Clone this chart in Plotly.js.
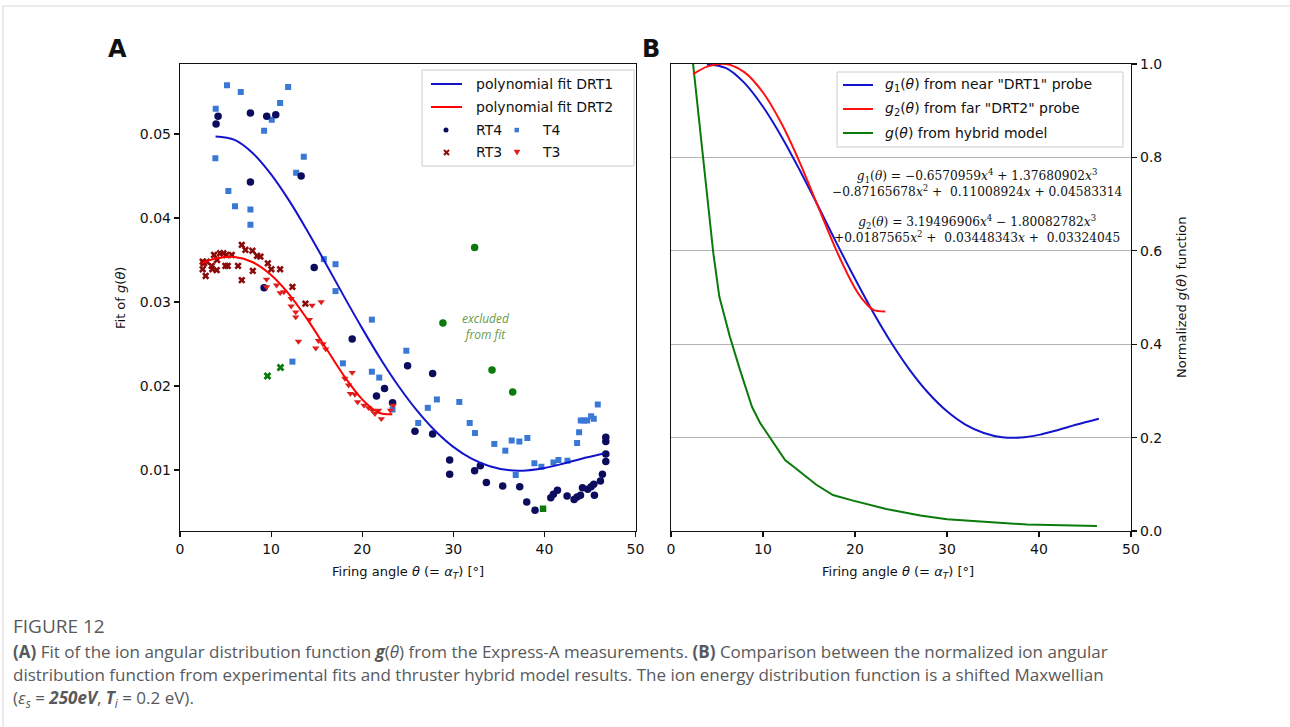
<!DOCTYPE html>
<html>
<head>
<meta charset="utf-8">
<script src="https://cdn.plot.ly/plotly-3.0.1.min.js"></script>
<style>html,body{margin:0;padding:0;background:#fff;}#chart{width:1290px;height:727px;}</style>
</head>
<body>
<div id="chart"></div>
<script>
// ---------- Panel A data ----------
const T4_x = [3.92,5.16,6.67,11.87,10.99,10.07,9.23,3.88,13.59,12.75,5.31,6.04,7.73,7.73,15.79,17.07,17.07,21.06,24.84,17.88,21.06,21.87,23.33,26.15,12.34,28.2,27.2,30.66,31.8,32.38,34.5,35.71,36.41,37.25,38.13,36.85,38.9,39.67,40.99,41.54,42.53,43.59,43.81,43.99,44.36,44.69,45.13,45.42,45.86];
const T4_y = [0.0530,0.0558,0.0550,0.0556,0.0537,0.0517,0.0504,0.0471,0.0473,0.0454,0.0432,0.0414,0.0410,0.0392,0.0351,0.0345,0.0313,0.0279,0.0242,0.0227,0.0217,0.0210,0.0172,0.0156,0.0229,0.0184,0.0174,0.0181,0.0156,0.0144,0.0131,0.0123,0.0135,0.0134,0.0138,0.0094,0.0108,0.0104,0.0109,0.0112,0.0111,0.0132,0.0145,0.0159,0.0159,0.0159,0.0164,0.0161,0.0178];
const RT4_x = [3.96,4.18,7.73,9.52,10.51,13.3,7.73,14.73,9.23,18.9,24.98,22.45,21.57,23.33,25.79,27.73,27.73,29.6,29.6,32.34,32.97,33.63,35.42,37.29,38.06,38.97,40.7,40.99,41.43,42.49,43.26,43.59,43.96,44.18,44.76,45.13,45.49,45.42,46.15,46.37,46.74,46.74,46.74,46.74];
const RT4_y = [0.0512,0.0521,0.0525,0.0521,0.0523,0.0450,0.0443,0.0341,0.0317,0.0256,0.0224,0.0197,0.0188,0.0180,0.0146,0.0215,0.0143,0.0112,0.0095,0.0099,0.0105,0.0085,0.0081,0.0080,0.0062,0.0052,0.0067,0.0071,0.0076,0.0069,0.0065,0.0068,0.0070,0.0079,0.0077,0.0080,0.0070,0.0083,0.0087,0.0095,0.0110,0.0119,0.0134,0.0139];
const RT3_x = [2.49,2.64,2.93,2.49,2.82,3.48,3.55,3.74,4.07,4.03,4.4,4.76,5.09,4.98,5.24,5.68,6.37,6.78,6.78,7.18,7.95,7.99,8.46,8.83,9.64,10.03,10.99,12.34,13.77];
const RT3_y = [0.0348,0.0346,0.0348,0.0339,0.0331,0.0343,0.0339,0.0356,0.0350,0.0338,0.0358,0.0358,0.0356,0.0343,0.0343,0.0356,0.0343,0.0368,0.0326,0.0362,0.0361,0.0337,0.0355,0.0354,0.0346,0.0339,0.0339,0.0318,0.0298];
const T3_x = [9.5,9.5,10.6,11.0,11.4,12.2,12.2,12.7,12.7,14.2,14.5,15.5,13.0,14.9,15.2,15.7,16.0,18.9,18.1,18.5,18.7,19.2,19.5,20.2,20.7,21.1,21.4,21.8,22.1,23.1,23.4];
const T3_y = [0.0327,0.0318,0.0320,0.0311,0.0312,0.0304,0.0295,0.0288,0.0282,0.0279,0.0296,0.0300,0.0253,0.0245,0.0254,0.0250,0.0244,0.0216,0.0209,0.0201,0.0191,0.0190,0.0181,0.0177,0.0174,0.0171,0.0167,0.0171,0.0161,0.0171,0.0177];
const excl_circle_x = [32.34,28.86,34.25,36.52];
const excl_circle_y = [0.0365,0.0275,0.0219,0.0193];
const excl_cross_x = [9.6,11.03];
const excl_cross_y = [0.0212,0.0222];
const excl_square_x = [39.85];
const excl_square_y = [0.0054];
const fit1_x = [3.9,6,8,10,12,14,16,18,20,22,24,26,28,30,32,34,36,38,40,42,44,46.5];
const fit1_y = [0.04971,0.04930,0.04771,0.04520,0.04204,0.03843,0.03459,0.03067,0.02686,0.02325,0.01997,0.01709,0.01467,0.01275,0.01134,0.01044,0.00999,0.00995,0.01024,0.01074,0.01132,0.01196];
const fit2_x = [2.4,4,6,8,10,12,14,16,18,20,21,22,23.3];
const fit2_y = [0.03460,0.03520,0.03537,0.03473,0.03322,0.03089,0.02790,0.02455,0.02121,0.01840,0.01739,0.01675,0.01663];

// ---------- Panel B data ----------
const g1_x = [3.9,6,8,10,12,14,16,18,20,22,24,26,28,30,32,34,36,38,40,42,44,46.5];
const g1_y = [0.999,0.991,0.959,0.9085,0.845,0.7725,0.6953,0.6165,0.540,0.4673,0.4014,0.3435,0.2949,0.2563,0.2279,0.2098,0.2008,0.2000,0.2058,0.2159,0.2275,0.2404];
const g2_x = [2.4,4,6,8,10,12,14,16,18,20,21,22,23.3];
const g2_y = [0.978,0.995,1.0,0.982,0.939,0.873,0.789,0.694,0.5997,0.520,0.4917,0.4736,0.4702];
const gh_x = [2.4,4.6,5.25,6.4,7.5,8.8,9.7,10.8,12.4,13.3,15.8,17.6,19.8,23.4,27.1,30.0,35.0,38.7,46.3];
const gh_y = [1.0,0.595,0.502,0.416,0.345,0.266,0.231,0.199,0.152,0.138,0.099,0.077,0.065,0.047,0.033,0.025,0.018,0.014,0.0107];

const xTicks = [0,10,20,30,40,50];
const yTicksA = [0.01,0.02,0.03,0.04,0.05];
const yTicksB = [0.0,0.2,0.4,0.6,0.8,1.0];

// ---------- layout helpers ----------
const W = 1290, H = 727;
const P = px => px / W;
const Q = py => 1 - py / H;
const TF = 'DejaVu Sans, sans-serif';
const C = {navy:'#0c0c5e', lblue:'#3a78d6', dred:'#8b0a0a', red:'#e01e1e', green:'#0a7a0a', fitB:'#1414cc', fitR:'#ff0000', gB:'#1414cc', gR:'#ff1010', gG:'#0a7a0a'};

const traces = [
  {x:T4_x, y:T4_y, type:'scatter', mode:'markers', marker:{symbol:'square', size:6, color:C.lblue}, xaxis:'x', yaxis:'y', showlegend:false},
  {x:RT4_x, y:RT4_y, type:'scatter', mode:'markers', marker:{symbol:'circle', size:7.5, color:C.navy}, xaxis:'x', yaxis:'y', showlegend:false},
  {x:RT3_x, y:RT3_y, type:'scatter', mode:'markers', marker:{symbol:'x', size:6.5, color:C.dred}, xaxis:'x', yaxis:'y', showlegend:false},
  {x:T3_x, y:T3_y, type:'scatter', mode:'markers', marker:{symbol:'triangle-down', size:6.5, color:C.red}, xaxis:'x', yaxis:'y', showlegend:false},
  {x:excl_circle_x, y:excl_circle_y, type:'scatter', mode:'markers', marker:{symbol:'circle', size:7.5, color:C.green}, xaxis:'x', yaxis:'y', showlegend:false},
  {x:excl_cross_x, y:excl_cross_y, type:'scatter', mode:'markers', marker:{symbol:'x', size:7, color:C.green}, xaxis:'x', yaxis:'y', showlegend:false},
  {x:excl_square_x, y:excl_square_y, type:'scatter', mode:'markers', marker:{symbol:'square', size:6.5, color:C.green}, xaxis:'x', yaxis:'y', showlegend:false},
  {x:fit1_x, y:fit1_y, type:'scatter', mode:'lines', line:{color:C.fitB, width:2, shape:'spline', smoothing:1}, xaxis:'x', yaxis:'y', showlegend:false},
  {x:fit2_x, y:fit2_y, type:'scatter', mode:'lines', line:{color:C.fitR, width:2, shape:'spline', smoothing:1}, xaxis:'x', yaxis:'y', showlegend:false},
  {x:gh_x, y:gh_y, type:'scatter', mode:'lines', line:{color:C.gG, width:2}, xaxis:'x2', yaxis:'y2', showlegend:false},
  {x:g1_x, y:g1_y, type:'scatter', mode:'lines', line:{color:C.gB, width:2, shape:'spline', smoothing:1}, xaxis:'x2', yaxis:'y2', showlegend:false},
  {x:g2_x, y:g2_y, type:'scatter', mode:'lines', line:{color:C.gR, width:2, shape:'spline', smoothing:1}, xaxis:'x2', yaxis:'y2', showlegend:false}
];

const axBase = {showline:true, linecolor:'#111', linewidth:1.2, mirror:true, ticks:'outside', ticklen:5, tickwidth:1.2, tickcolor:'#111', zeroline:false, tickfont:{family:TF, size:14, color:'#111'}, fixedrange:true};

const shapes = [];
const annotations = [];
const txt = (text, px, py, opt={}) => annotations.push(Object.assign({text, x:P(px), y:Q(py), xref:'paper', yref:'paper', showarrow:false, xanchor:'left', yanchor:'middle', font:{family:TF, size:14, color:'#111'}}, opt));
const hline = (x0,x1,y,color,w) => shapes.push({type:'line', xref:'paper', yref:'paper', x0:P(x0), x1:P(x1), y0:Q(y), y1:Q(y), line:{color, width:w}});
const box = (x0,y0,x1,y1,color) => shapes.push({type:'rect', xref:'paper', yref:'paper', x0:P(x0), x1:P(x1), y0:Q(y1), y1:Q(y0), line:{color, width:1}, fillcolor:'rgba(255,255,255,0.85)'});

// outer page frame
shapes.push({type:'line', xref:'paper', yref:'paper', x0:P(3), x1:1, y0:Q(6), y1:Q(6), line:{color:'#d8d8d8', width:1}});
shapes.push({type:'line', xref:'paper', yref:'paper', x0:P(3), x1:P(3), y0:Q(6), y1:0, line:{color:'#d8d8d8', width:1}});

// Panel A legend
box(422,70,634,166,'#cccccc');
hline(431,462,84,C.fitB,2);
txt('polynomial fit DRT1', 474, 84);
hline(431,462,107,C.fitR,2);
txt('polynomial fit DRT2', 474, 107);
shapes.push({type:'circle', xref:'paper', yref:'paper', x0:P(443.5), x1:P(448.5), y0:Q(132.5), y1:Q(127.5), fillcolor:C.navy, line:{width:0}});
txt('RT4', 474, 130);
shapes.push({type:'rect', xref:'paper', yref:'paper', x0:P(514.5), x1:P(519), y0:Q(132.3), y1:Q(127.8), fillcolor:C.lblue, line:{width:0}});
txt('T4', 540, 130);
shapes.push({type:'path', xref:'paper', yref:'paper', path:`M${P(444)},${Q(150)} L${P(449)},${Q(155)} M${P(449)},${Q(150)} L${P(444)},${Q(155)}`, line:{color:C.dred, width:2}});
txt('RT3', 474, 152);
shapes.push({type:'path', xref:'paper', yref:'paper', path:`M${P(514)},${Q(150)} L${P(520)},${Q(150)} L${P(517)},${Q(155)} Z`, fillcolor:C.red, line:{color:C.red, width:0.5}});
txt('T3', 540, 152);

// "excluded from fit"
annotations.push({text:'<i>excluded</i><br><i>from fit</i>', x:P(486), y:Q(327), xref:'paper', yref:'paper', showarrow:false, xanchor:'center', yanchor:'middle', align:'center', font:{family:'Open Sans, sans-serif', size:12, color:'#6b9a45'}});

// Panel B legend
box(837,72,1123,147,'#cccccc');
hline(843,873,85,C.gB,2);
txt('<i>g</i><sub>1</sub>(<i>θ</i>) from near "DRT1" probe', 883, 85);
hline(843,873,109,C.gR,2);
txt('<i>g</i><sub>2</sub>(<i>θ</i>) from far "DRT2" probe', 883, 109);
hline(843,873,133,C.gG,2);
txt('<i>g</i>(<i>θ</i>) from hybrid model', 883, 133);

// Equations
const SF = 'DejaVu Serif, Liberation Serif, serif';
annotations.push({text:'<i>g</i><sub>1</sub>(<i>θ</i>) = −0.6570959<i>x</i><sup>4</sup> + 1.37680902<i>x</i><sup>3</sup><br>−0.87165678<i>x</i><sup>2</sup> +  0.11008924<i>x</i> + 0.04583314', x:P(977), y:Q(183), xref:'paper', yref:'paper', showarrow:false, xanchor:'center', yanchor:'middle', align:'center', font:{family:SF, size:12.2, color:'#111'}});
annotations.push({text:'<i>g</i><sub>2</sub>(<i>θ</i>) = 3.19496906<i>x</i><sup>4</sup> − 1.80082782<i>x</i><sup>3</sup><br>+0.0187565<i>x</i><sup>2</sup> +  0.03448343<i>x</i> +  0.03324045', x:P(977), y:Q(229), xref:'paper', yref:'paper', showarrow:false, xanchor:'center', yanchor:'middle', align:'center', font:{family:SF, size:12.2, color:'#111'}});

// Panel letters
annotations.push({text:'<b>A</b>', x:P(117), y:Q(49), xref:'paper', yref:'paper', showarrow:false, xanchor:'center', yanchor:'middle', font:{family:TF, size:24, color:'#111'}});
annotations.push({text:'<b>B</b>', x:P(651), y:Q(49), xref:'paper', yref:'paper', showarrow:false, xanchor:'center', yanchor:'middle', font:{family:TF, size:24, color:'#111'}});

// Axis titles
annotations.push({text:'Fit of <i>g</i>(<i>θ</i>)', x:P(120), y:Q(298), xref:'paper', yref:'paper', showarrow:false, xanchor:'center', yanchor:'middle', textangle:-90, font:{family:TF, size:13, color:'#111'}});
annotations.push({text:'Firing angle <i>θ</i> (= <i>α</i><sub><i>T</i></sub>) [°]', x:P(408), y:Q(572), xref:'paper', yref:'paper', showarrow:false, xanchor:'center', yanchor:'middle', font:{family:TF, size:13, color:'#111'}});
annotations.push({text:'Firing angle <i>θ</i> (= <i>α</i><sub><i>T</i></sub>) [°]', x:P(898), y:Q(572), xref:'paper', yref:'paper', showarrow:false, xanchor:'center', yanchor:'middle', font:{family:TF, size:13, color:'#111'}});
annotations.push({text:'Normalized <i>g</i>(<i>θ</i>) function', x:P(1181), y:Q(298), xref:'paper', yref:'paper', showarrow:false, xanchor:'center', yanchor:'middle', textangle:-90, font:{family:TF, size:13, color:'#111'}});

// Caption
const CF = 'Open Sans, sans-serif';
const capColor = '#58595b';
txt('FIGURE 12', 11, 626, {font:{family:CF, size:19, color:capColor}});
txt('<b>(A)</b> Fit of the ion angular distribution function <b><i>g</i></b>(<i>θ</i>) from the Express-A measurements. <b>(B)</b> Comparison between the normalized ion angular', 11, 651, {font:{family:CF, size:17, color:capColor}});
txt('distribution function from experimental fits and thruster hybrid model results. The ion energy distribution function is a shifted Maxwellian', 11, 674, {font:{family:CF, size:17, color:capColor}});
txt('(<i>ε</i><sub><i>s</i></sub> = <b><i>250eV</i></b>, <b><i>T</i></b><sub><i>i</i></sub> = 0.2 eV).', 11, 698, {font:{family:CF, size:17, color:capColor}});

const layout = {
  width: W, height: H,
  margin:{l:0, r:0, t:0, b:0},
  paper_bgcolor:'#ffffff', plot_bgcolor:'#ffffff',
  showlegend:false,
  xaxis: Object.assign({}, axBase, {domain:[P(180), P(635.5)], range:[0,50], tickvals:xTicks, ticktext:xTicks.map(String), anchor:'y', showgrid:false}),
  yaxis: Object.assign({}, axBase, {domain:[Q(531), Q(64)], range:[0.002738, 0.058333], tickvals:yTicksA, ticktext:yTicksA.map(v=>v.toFixed(2)), anchor:'x', showgrid:false}),
  xaxis2: Object.assign({}, axBase, {domain:[P(671), P(1131)], range:[0,50], tickvals:xTicks, ticktext:xTicks.map(String), anchor:'y2', showgrid:false}),
  yaxis2: Object.assign({}, axBase, {domain:[Q(531), Q(64)], range:[0,1], side:'right', tickvals:yTicksB, ticktext:yTicksB.map(v=>v.toFixed(1)), anchor:'x2', showgrid:true, gridcolor:'#b4b4b4', gridwidth:1}),
  shapes, annotations
};

Plotly.newPlot('chart', traces, layout, {displayModeBar:false, staticPlot:true});
</script>
</body>
</html>
